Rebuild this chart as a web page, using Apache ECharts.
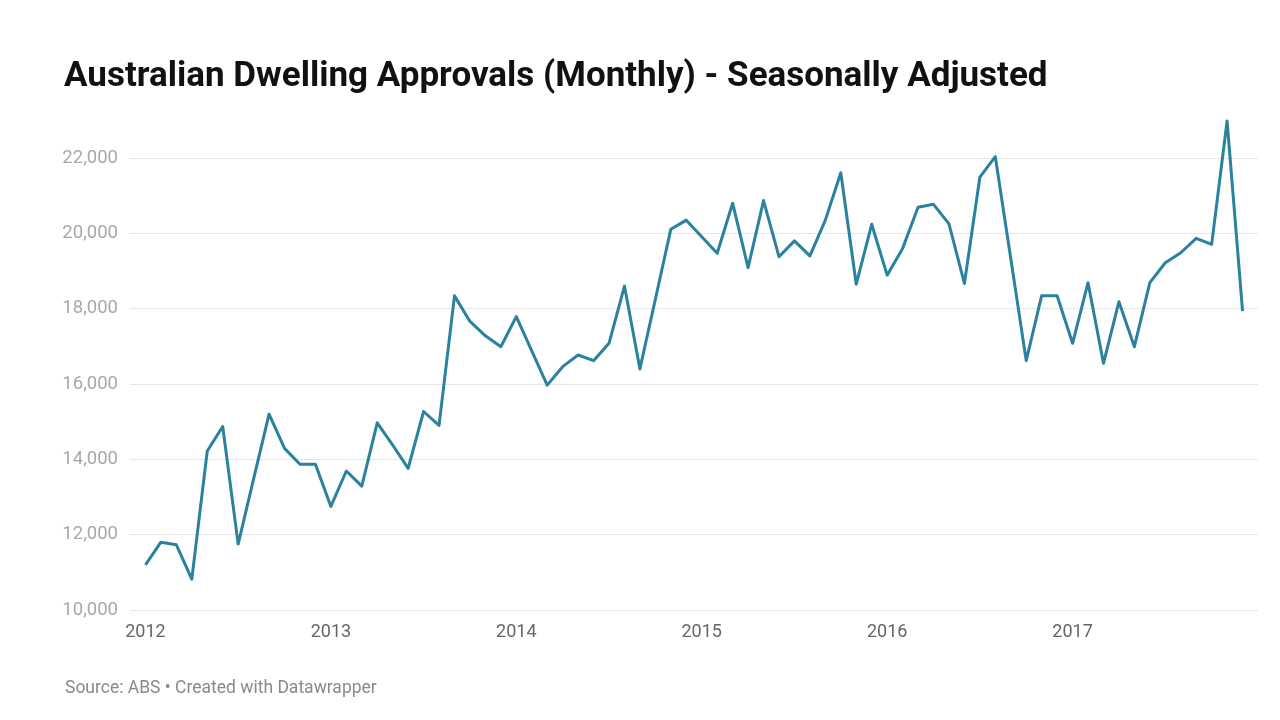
<!DOCTYPE html>
<html>
<head>
<meta charset="utf-8">
<style>
  html, body { margin: 0; padding: 0; background: #fff; }
  #chart { width: 1280px; height: 720px; }
</style>
<script src="https://cdn.jsdelivr.net/npm/echarts@6/dist/echarts.min.js"></script>
</head>
<body>
<div id="chart"></div>
<script>
// Monthly dwelling approvals, Jan 2012 .. Dec 2017 (seasonally adjusted)
const startYear = 2012;
const yearLabels = ['2012', '2013', '2014', '2015', '2016', '2017'];
const approvals2012 = [11200, 11800, 11730, 10820, 14220, 14870, 11750, 13480, 15200, 14290, 13870, 13870];
const approvals2013 = [12750, 13690, 13290, 14970, 14380, 13760, 15270, 14900, 18340, 17660, 17280, 16990];
const approvals2014 = [17790, 16880, 15970, 16460, 16770, 16620, 17080, 18600, 16400, 18250, 20110, 20350];
const approvals2015 = [19910, 19470, 20800, 19090, 20870, 19380, 19800, 19400, 20350, 21610, 18650, 20240];
const approvals2016 = [18890, 19600, 20690, 20770, 20250, 18670, 21490, 22035, 19330, 16620, 18345, 18345];
const approvals2017 = [17080, 18690, 16550, 18185, 16990, 18690, 19220, 19485, 19867, 19708, 22981, 17937];
const yTicks = [10000, 12000, 14000, 16000, 18000, 20000, 22000];

const approvals = [].concat(approvals2012, approvals2013, approvals2014, approvals2015, approvals2016, approvals2017);
const seriesData = approvals.map((v, i) => [i, v]);
const yearTickValues = yearLabels.map((y, k) => k * 12);

const chart = echarts.init(document.getElementById('chart'), null, { renderer: 'canvas' });
chart.setOption({
  backgroundColor: '#ffffff',
  animation: false,
  title: [{
    text: 'Australian Dwelling Approvals (Monthly) - Seasonally Adjusted',
    left: 59, top: 55,
    textStyle: { fontFamily: 'Roboto', fontWeight: 'bold', fontSize: 35, color: '#111111' }
  }, {
    text: 'Source: ABS • Created with Datawrapper',
    left: 60, top: 675,
    textStyle: { fontFamily: 'Roboto', fontWeight: 'normal', fontSize: 17.5, color: '#8a8a8a' }
  }],
  grid: { left: 130, right: 22, top: 158, bottom: 110, containLabel: false },
  xAxis: {
    type: 'value',
    min: -1,
    max: approvals.length,
    axisLine: { show: false },
    axisTick: { show: false },
    splitLine: { show: false },
    axisLabel: {
      customValues: yearTickValues,
      formatter: (v) => yearLabels[Math.round(v / 12)] || '',
      fontFamily: 'Roboto', fontSize: 18, color: '#666666', margin: 13
    }
  },
  yAxis: {
    type: 'value',
    min: yTicks[0],
    max: yTicks[yTicks.length - 1],
    interval: 2000,
    axisLine: { show: false },
    axisTick: { show: false },
    splitLine: { show: true, lineStyle: { color: '#e6e6e6', width: 1 } },
    axisLabel: {
      formatter: (v) => v.toLocaleString('en-US'),
      fontFamily: 'Roboto', fontSize: 18.5, color: '#a8a8a8', margin: 12
    }
  },
  series: [{
    type: 'line',
    data: seriesData,
    clip: false,
    symbol: 'none',
    lineStyle: { color: '#2a829f', width: 3, join: 'round' },
    itemStyle: { color: '#2a829f' }
  }]
});
</script>
</body>
</html>
